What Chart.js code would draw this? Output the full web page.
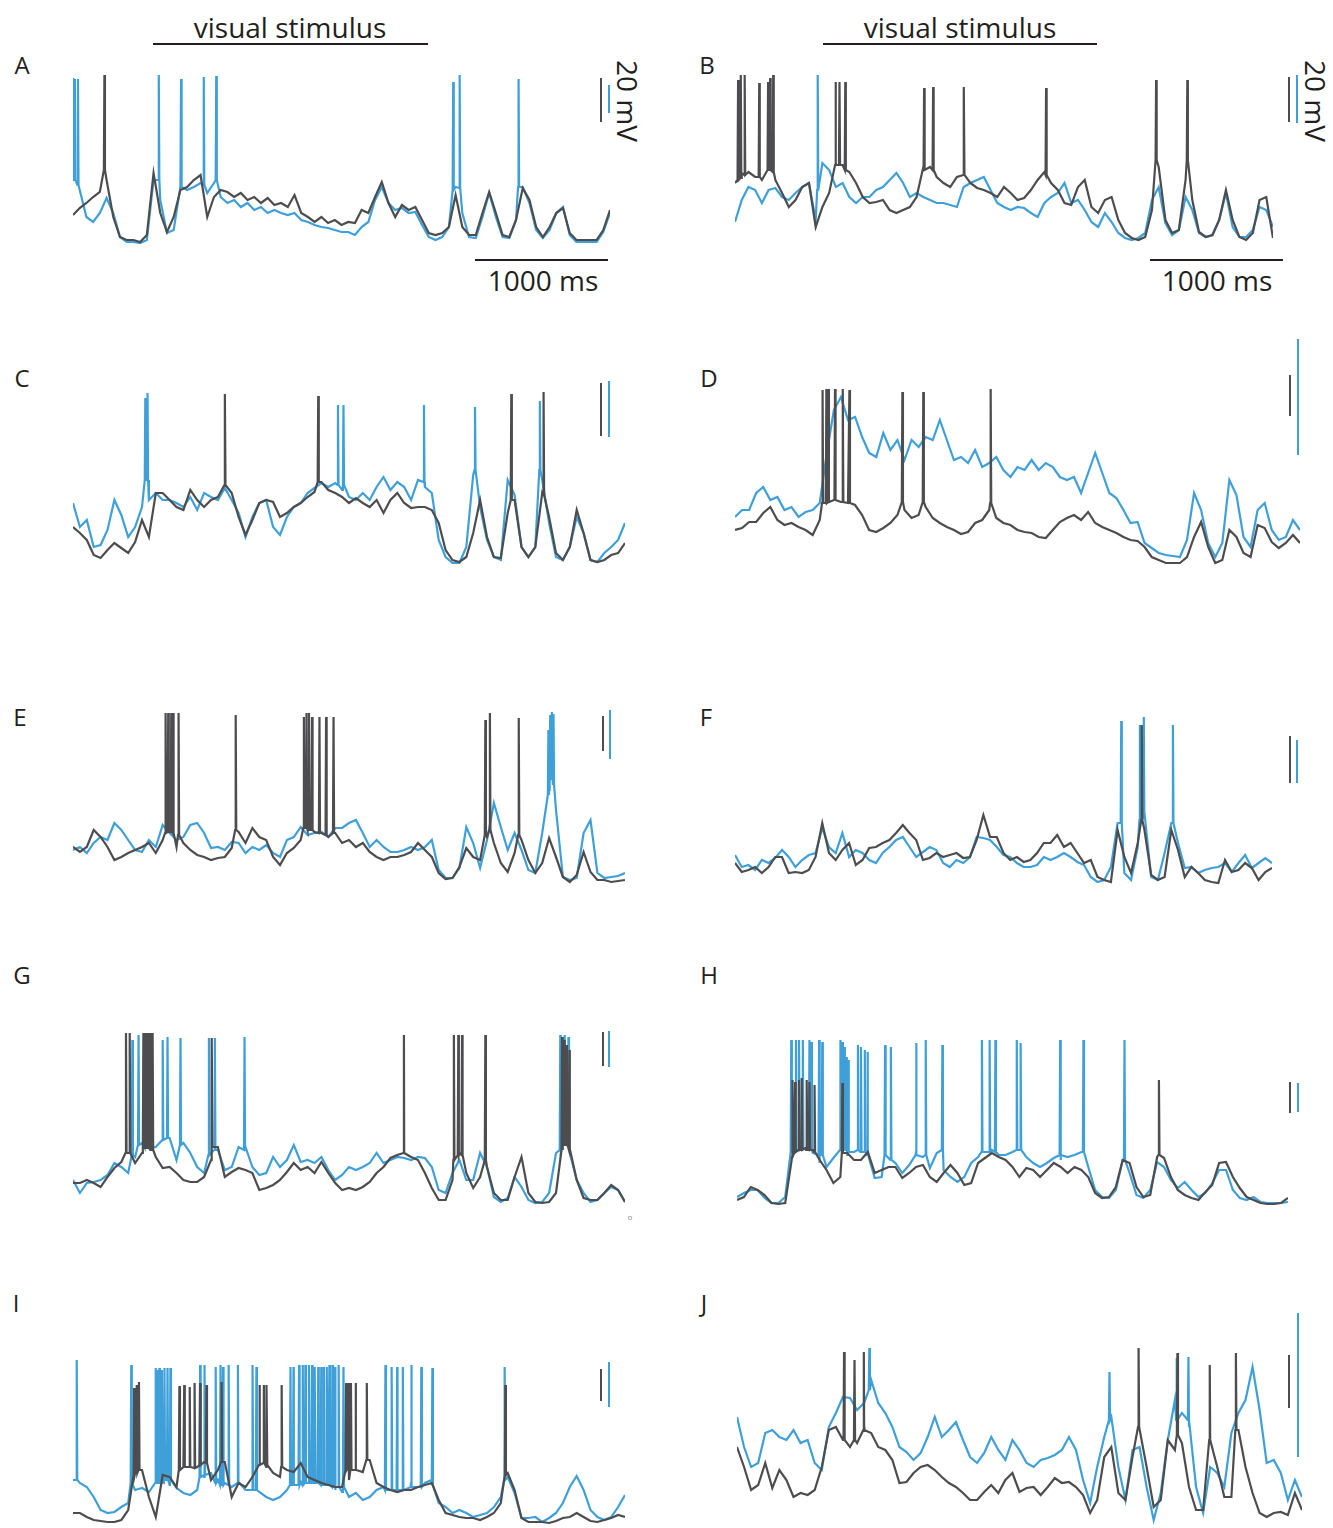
<!DOCTYPE html>
<html>
<head>
<meta charset="utf-8">
<script src="https://cdn.jsdelivr.net/npm/chart.js@4.4.1/dist/chart.umd.min.js"></script>
<style>
  body { margin: 0; background: #fff; }
  #fig { position: relative; width: 1333px; height: 1528px; overflow: hidden; font-family: "Open Sans", "Noto Sans", sans-serif; color: #231f20; }
  .txt { position: absolute; transform: translate(-50%, -50%); white-space: nowrap; line-height: 1; }
  .lbl { font-size: 24px; }
  .big { font-size: 28px; }
  .bar { position: absolute; }
  canvas { position: absolute; }
</style>
</head>
<body>
<div id="fig">
  <div class="txt lbl" style="left:22px;top:65px">A</div>
  <div class="txt lbl" style="left:707px;top:65px">B</div>
  <div class="txt lbl" style="left:22px;top:378px">C</div>
  <div class="txt lbl" style="left:709px;top:378px">D</div>
  <div class="txt lbl" style="left:20px;top:717px">E</div>
  <div class="txt lbl" style="left:706px;top:717px">F</div>
  <div class="txt lbl" style="left:22px;top:975px">G</div>
  <div class="txt lbl" style="left:709px;top:975px">H</div>
  <div class="txt lbl" style="left:16px;top:1303px">I</div>
  <div class="txt lbl" style="left:704px;top:1303px">J</div>

  <div class="txt big" style="left:290px;top:27px">visual stimulus</div>
  <div class="txt big" style="left:960px;top:27px">visual stimulus</div>
  <div class="bar" style="left:153px;top:43px;width:275px;height:2px;background:#231f20"></div>
  <div class="bar" style="left:823px;top:43px;width:274px;height:2px;background:#231f20"></div>

  <div class="bar" style="left:475px;top:259px;width:133px;height:2px;background:#231f20"></div>
  <div class="bar" style="left:1150px;top:259px;width:133px;height:2px;background:#231f20"></div>
  <div class="txt big" style="left:543px;top:280px">1000 ms</div>
  <div class="txt big" style="left:1217px;top:280px">1000 ms</div>
  <div class="txt big" style="left:628px;top:101px;transform:translate(-50%,-50%) rotate(90deg)">20 mV</div>
  <div class="txt big" style="left:1316px;top:101px;transform:translate(-50%,-50%) rotate(90deg)">20 mV</div>
  <div class="txt" style="left:630px;top:1217px;font-size:8px;color:#888">o</div>
</div>
<script>
const STEP_MS = 50;   // sample spacing of the membrane traces
const GRAY = '#4d4d4f';
const BLUE = '#3f9fd8';

// membrane potential, sampled every 50 ms (height in px units above trace floor)
const grayA = [35,42,47,53,58,70,33,13,10,10,8,15,77,37,18,33,60,63,70,75,33,53,60,58,53,57,50,53,47,52,45,47,43,55,37,33,28,33,27,30,25,28,27,40,37,53,68,47,33,45,40,43,30,17,15,17,23,55,23,15,15,37,58,37,15,13,30,62,50,23,13,23,37,42,17,10,10,10,10,20,40];
const blueA = [70,60,33,28,37,52,37,13,8,8,7,10,70,50,17,20,63,60,63,67,57,67,53,47,50,43,47,40,43,37,40,37,35,37,30,28,25,23,22,20,18,18,15,23,28,50,63,47,40,42,37,38,25,13,10,13,23,63,37,13,12,33,57,33,13,12,30,63,47,20,12,20,37,43,15,8,8,8,8,18,37];
const grayB = [67,77,78,73,70,82,70,57,43,50,63,67,23,43,57,87,85,78,67,53,47,48,50,40,37,40,43,53,83,83,73,67,63,73,77,67,62,60,57,53,63,57,50,52,60,70,78,67,60,47,45,63,70,43,37,50,53,30,17,12,10,13,40,83,30,17,20,70,50,18,13,15,30,60,30,13,10,17,50,53,12];
const blueB = [28,50,63,60,47,60,62,53,50,57,63,67,30,87,80,63,67,53,47,53,53,60,63,70,77,67,53,57,53,50,47,47,45,43,63,67,70,73,60,47,43,40,43,42,37,33,47,53,57,67,47,50,40,28,23,37,28,17,12,10,12,17,50,63,27,15,20,53,40,17,13,15,30,57,23,13,13,20,43,40,23];
const grayC = [43,37,30,15,12,20,27,22,17,28,50,33,77,77,70,63,60,80,70,63,70,73,85,77,53,35,50,67,70,68,53,57,63,67,73,78,88,80,77,73,67,72,67,63,70,57,70,77,67,62,63,63,60,47,20,10,8,13,37,70,33,13,12,57,70,23,13,23,77,53,17,10,23,60,37,10,8,10,15,17,27];
const blueC = [67,43,50,23,25,40,70,55,33,43,63,70,77,70,70,67,63,73,60,77,73,70,82,70,57,33,53,67,70,43,35,53,63,67,77,82,87,83,87,80,73,70,77,70,83,93,80,88,83,70,90,83,77,30,13,7,7,23,95,63,30,13,10,90,75,23,13,23,90,47,13,10,23,53,37,10,8,17,23,30,47];
const grayD = [40,42,48,48,57,63,50,45,47,43,40,35,50,67,70,68,67,65,55,40,38,42,47,55,60,52,55,63,52,47,43,40,36,38,47,50,60,52,47,45,40,38,37,33,32,40,48,52,55,50,58,47,43,40,37,33,30,29,23,13,10,7,7,7,13,33,48,23,7,10,40,33,17,13,45,42,28,22,27,35,27];
const blueD = [53,60,60,77,83,70,73,60,63,53,58,60,67,117,160,173,150,153,133,117,113,137,120,130,110,130,123,133,130,150,130,110,113,107,120,103,107,113,100,93,103,100,110,100,107,103,93,90,93,77,97,117,97,77,72,60,47,48,27,22,17,15,14,13,30,77,60,27,13,27,90,75,33,23,60,67,40,30,33,50,40];
const grayE = [43,38,43,60,53,43,30,33,37,40,43,47,37,50,58,43,47,40,35,33,30,32,33,42,58,47,62,53,50,33,25,37,42,50,60,58,57,53,57,47,50,43,47,38,33,30,33,33,35,38,47,40,33,17,11,12,23,42,33,30,53,47,27,18,37,50,30,17,27,52,33,13,8,15,38,18,10,10,8,9,10];
const blueE = [40,43,37,47,53,50,67,60,50,40,38,50,43,65,57,50,53,65,67,57,42,43,40,48,47,37,43,40,45,37,33,50,53,63,55,57,58,53,62,62,67,70,57,43,50,43,38,38,40,43,40,43,50,20,12,12,22,63,47,22,50,87,63,40,57,40,20,17,57,100,80,13,10,12,57,70,17,12,13,14,17];
const grayF = [27,18,20,23,17,23,33,33,17,18,17,20,33,67,37,30,40,47,25,30,42,43,47,50,57,65,57,50,30,32,37,33,35,37,32,33,50,75,53,53,37,30,33,28,30,37,47,47,55,43,47,37,27,30,13,10,8,60,33,17,47,60,15,10,13,60,40,13,23,17,10,8,7,30,18,20,27,22,10,18,22];
const blueF = [35,23,25,20,30,27,32,40,33,23,30,35,37,62,43,37,57,33,40,37,30,27,37,43,50,53,43,33,38,43,40,27,23,30,27,33,53,52,50,43,35,33,27,23,23,25,33,30,33,37,33,28,25,13,8,10,23,67,17,10,43,77,13,10,37,67,47,22,23,17,20,22,23,27,18,27,35,22,27,32,27];
const grayG = [27,27,30,27,23,33,42,48,57,47,57,62,53,42,43,37,30,28,28,33,50,63,33,38,42,40,37,20,22,25,30,38,47,40,43,37,48,37,27,20,22,20,23,28,37,43,52,55,57,53,50,37,22,10,10,30,57,37,22,33,43,17,10,10,33,53,17,8,7,8,17,67,60,30,12,10,10,17,25,20,8];
const blueG = [30,17,27,28,30,35,47,43,37,53,67,62,63,70,72,50,67,57,43,37,57,60,40,43,63,63,43,35,37,53,43,50,65,48,50,47,53,40,30,35,43,40,43,47,57,47,50,53,52,50,53,52,43,20,17,37,50,30,30,57,43,13,8,12,33,23,10,7,8,17,57,70,57,30,17,8,10,17,23,20,8];
const grayH = [10,13,23,20,15,7,6,7,53,62,62,60,50,40,27,33,57,50,50,58,37,40,43,43,32,37,43,45,33,28,37,45,37,25,27,47,52,57,53,50,43,33,42,40,33,40,47,43,37,43,40,33,17,12,13,23,50,47,23,13,15,53,52,33,20,15,12,10,18,25,47,48,33,22,13,10,7,6,6,7,12];
const blueH = [13,17,20,20,12,7,7,13,62,63,62,57,47,43,52,60,55,58,62,60,32,33,52,47,37,45,58,53,42,57,40,33,28,33,47,53,58,60,55,55,58,60,53,47,43,47,52,50,53,55,58,43,20,13,12,20,50,37,15,12,20,48,43,30,22,28,20,13,17,27,40,40,20,12,10,13,8,7,7,7,8];
const grayI = [12,12,8,5,4,3,3,5,15,52,55,28,8,50,48,38,58,58,58,63,45,55,63,28,42,38,48,60,58,52,48,55,53,62,48,45,42,40,38,38,45,55,53,65,42,38,35,33,35,35,38,40,42,25,12,10,8,7,7,5,8,12,22,52,35,7,3,3,3,2,4,7,8,12,8,4,3,5,7,10,8];
const blueI = [45,42,38,28,15,12,13,18,22,35,37,33,42,48,40,37,32,30,35,48,52,45,42,38,43,35,38,33,28,25,28,35,42,43,42,43,40,40,35,33,28,32,25,28,35,38,35,42,35,43,38,42,45,22,18,12,15,12,8,10,12,18,28,48,32,7,7,8,3,7,12,22,38,49,35,15,8,5,8,18,30];
const grayJ = [83,63,40,45,67,42,60,50,33,37,35,40,63,100,103,90,83,87,103,97,83,80,70,47,48,57,63,65,60,53,47,43,37,30,30,38,45,37,50,57,38,42,43,35,43,52,47,48,43,35,17,30,73,83,37,30,73,103,63,23,30,90,80,87,43,20,20,90,63,33,33,100,63,37,17,13,17,18,15,37,20];
const blueJ = [113,83,63,67,97,100,93,90,100,87,90,67,60,103,117,133,132,120,127,150,127,117,103,83,78,70,77,93,113,93,100,108,90,73,67,77,93,80,70,90,80,67,63,70,72,75,80,93,80,50,27,63,93,113,63,30,80,83,43,10,37,90,130,117,103,43,17,63,57,43,97,117,130,163,120,67,70,57,30,50,33];

// action potentials: [time ms, base, peak]
const spkGrayA = [[234,80,175]];
const spkBlueA = [[3,70,172],[14,70,171],[37,65,171],[639,70,175],[805,63,171],[974,65,173],[1067,70,174],[2832,60,168],[2880,62,175],[3319,63,171]];
const spkGrayB = [[23,70,170],[43,72,175],[72,75,175],[180,73,167],[246,80,168],[261,80,172],[284,78,175],[748,85,168],[777,85,168],[820,80,168],[1406,80,162],[1473,80,163],[1702,75,163],[2313,75,162],[3131,90,170],[3363,90,170]];
const spkBlueB = [[615,60,175]];
const spkGrayC = [[1101,85,176],[1777,88,174],[3176,70,176],[3410,75,178]];
const spkBlueC = [[524,90,172],[540,90,177],[1920,85,165],[1960,85,165],[2543,88,165],[2913,100,163],[3383,100,169]];
const spkGrayD = [[620,67,180],[647,67,181],[661,68,181],[708,70,181],[763,68,181],[810,67,180],[1185,68,178],[1333,68,178],[1810,67,181]];
const spkBlueD = [];
const spkGrayE = [[671,57,177],[690,58,177],[712,58,177],[725,57,177],[765,55,177],[1179,60,175],[1673,62,173],[1692,62,177],[1710,60,177],[1732,60,173],[1786,57,173],[1834,55,173],[1888,57,173],[2988,55,170],[3021,60,177],[3230,55,172]];
const spkBlueE = [[3445,95,160],[3458,110,175],[3470,115,178],[3482,105,176]];
const spkGrayF = [[3030,70,165]];
const spkBlueF = [[2877,67,169],[3016,70,165],[3045,72,173],[3262,67,165]];
const spkGrayG = [[384,57,177],[411,57,177],[510,62,177],[529,62,177],[545,62,177],[564,60,177],[577,60,177],[1007,63,172],[2398,57,175],[2760,50,175],[2792,55,175],[2819,55,175],[2988,50,175],[3544,60,173],[3563,65,170],[3579,65,165],[3598,60,160]];
const spkBlueG = [[430,55,170],[475,65,175],[524,62,175],[650,70,170],[685,72,173],[779,65,172],[985,55,172],[1028,60,172],[1243,60,173],[3531,60,175],[3563,70,175],[3590,65,173]];
const spkGrayH = [[405,55,130],[422,58,128],[450,60,130],[470,60,132],[506,60,130],[526,60,128],[563,58,125],[765,57,127],[3063,55,130]];
const spkBlueH = [[394,58,170],[428,60,170],[450,60,170],[478,62,170],[526,60,170],[540,60,168],[596,55,170],[619,55,168],[751,60,170],[765,60,168],[779,60,163],[793,60,153],[807,58,150],[878,60,165],[900,58,163],[928,58,160],[948,55,158],[1075,55,165],[1117,50,163],[1300,55,167],[1370,55,170],[1491,60,165],[1778,58,170],[1834,58,170],[1876,58,170],[2031,60,170],[2059,60,167],[2346,55,170],[2515,58,170],[2813,50,170]];
const spkGrayI = [[443,50,137],[462,52,140],[478,55,143],[771,55,139],[806,58,140],[846,58,138],[881,57,142],[921,60,142],[967,62,140],[1077,63,143],[1351,60,140],[1383,62,140],[1404,60,140],[1512,58,140],[1979,55,142],[1995,57,142],[2014,55,142],[2049,55,142],[2129,65,142],[3133,50,140]];
const spkBlueI = [[27,45,165],[422,42,160],[599,42,157],[609,42,155],[626,42,157],[644,42,155],[663,45,157],[685,45,157],[706,45,157],[921,48,160],[953,50,160],[1034,42,158],[1069,40,160],[1087,40,158],[1128,40,160],[1195,42,160],[1302,35,160],[1329,35,158],[1576,40,158],[1598,40,158],[1638,40,160],[1665,40,160],[1684,42,160],[1710,42,160],[1732,42,160],[1753,42,158],[1777,42,158],[1799,40,158],[1818,40,158],[1839,40,158],[1858,40,160],[1880,38,160],[1899,38,158],[1925,38,160],[1960,38,158],[2264,35,160],[2309,35,158],[2349,35,158],[2390,35,158],[2451,38,160],[2524,38,158],[2604,40,157],[3128,45,158]];
const spkGrayJ = [[758,90,178],[832,90,170],[898,100,178],[2843,103,182],[3118,95,177],[3347,90,165],[3532,100,177]];
const spkBlueJ = [[937,140,182],[2637,110,158],[3113,110,172],[3196,110,173]];

// scale bars (page px): [x, yTop, yBottom]
const scaleBars = [
  [[601,78,122],[609,85,113]], [[1289,77,122],[1297,75,123]],
  [[601,383,436],[609,381,437]], [[1290,375,416],[1298,339,455]],
  [[603,716,751],[610,710,759]], [[1290,736,783],[1297,740,783]],
  [[603,1032,1066],[609,1031,1067]], [[1290,1082,1113],[1298,1083,1112]],
  [[601,1369,1401],[609,1362,1407]], [[1289,1355,1408],[1298,1313,1457]]
];

const panels = [
  { left: 73,  bottom: 250,  width: 537, height: 185, gray: grayA, blue: blueA, sg: spkGrayA, sb: spkBlueA },
  { left: 735, bottom: 250,  width: 538, height: 185, gray: grayB, blue: blueB, sg: spkGrayB, sb: spkBlueB },
  { left: 73,  bottom: 570,  width: 552, height: 185, gray: grayC, blue: blueC, sg: spkGrayC, sb: spkBlueC },
  { left: 735, bottom: 570,  width: 565, height: 190, gray: grayD, blue: blueD, sg: spkGrayD, sb: spkBlueD },
  { left: 73,  bottom: 890,  width: 552, height: 185, gray: grayE, blue: blueE, sg: spkGrayE, sb: spkBlueE },
  { left: 735, bottom: 890,  width: 537, height: 185, gray: grayF, blue: blueF, sg: spkGrayF, sb: spkBlueF },
  { left: 73,  bottom: 1210, width: 552, height: 185, gray: grayG, blue: blueG, sg: spkGrayG, sb: spkBlueG },
  { left: 737, bottom: 1210, width: 551, height: 180, gray: grayH, blue: blueH, sg: spkGrayH, sb: spkBlueH },
  { left: 73,  bottom: 1525, width: 552, height: 175, gray: grayI, blue: blueI, sg: spkGrayI, sb: spkBlueI },
  { left: 737, bottom: 1530, width: 565, height: 195, gray: grayJ, blue: blueJ, sg: spkGrayJ, sb: spkBlueJ }
];

function buildTrace(vals, spikes) {
  const pts = vals.map((v, i) => ({ x: i * STEP_MS, y: v }));
  spikes.forEach(([t, base, peak]) => {
    pts.push({ x: t - 4, y: base }, { x: t, y: peak }, { x: t + 4, y: base });
  });
  return pts.sort((a, b) => a.x - b.x);
}

const fig = document.getElementById('fig');

panels.forEach(p => {
  const cv = document.createElement('canvas');
  cv.width = p.width;
  cv.height = p.height;
  cv.style.left = p.left + 'px';
  cv.style.top = (p.bottom - p.height) + 'px';
  fig.appendChild(cv);

  new Chart(cv, {
    type: 'line',
    data: {
      datasets: [
        { data: buildTrace(p.gray, p.sg), borderColor: GRAY, borderWidth: 2.2, pointRadius: 0, tension: 0 },
        { data: buildTrace(p.blue, p.sb), borderColor: BLUE, borderWidth: 2.2, pointRadius: 0, tension: 0 }
      ]
    },
    options: {
      responsive: false,
      animation: false,
      events: [],
      layout: { padding: 0 },
      plugins: { legend: { display: false }, tooltip: { enabled: false } },
      scales: {
        x: { type: 'linear', display: false, min: 0, max: 4000 },
        y: { display: false, min: 0, max: p.height }
      }
    }
  });
});

scaleBars.forEach(pair => {
  pair.forEach(([x, y0, y1], k) => {
    const d = document.createElement('div');
    d.className = 'bar';
    d.style.left = (x - 1) + 'px';
    d.style.top = y0 + 'px';
    d.style.width = '2px';
    d.style.height = (y1 - y0) + 'px';
    d.style.background = k === 0 ? GRAY : BLUE;
    fig.appendChild(d);
  });
});
</script>
</body>
</html>
